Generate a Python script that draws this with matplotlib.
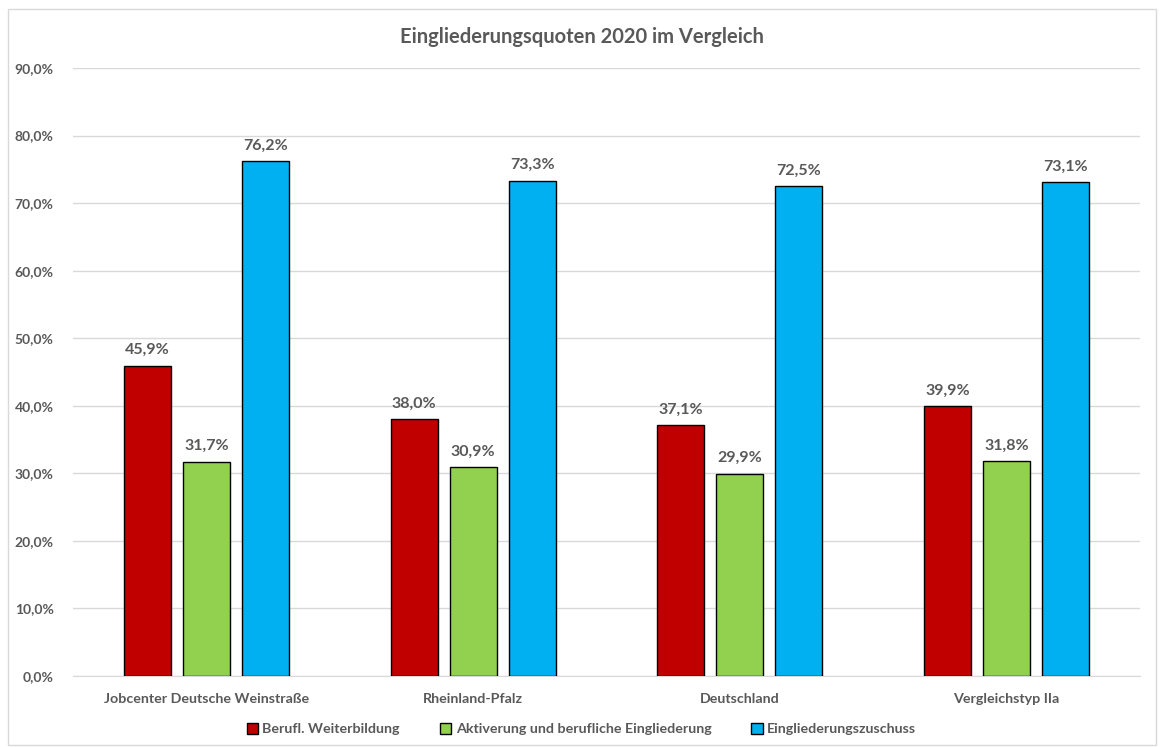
import matplotlib.pyplot as plt
import numpy as np
from matplotlib.patches import Rectangle

categories = ['Jobcenter Deutsche Weinstraße', 'Rheinland-Pfalz',
              'Deutschland', 'Vergleichstyp IIa']
series_names = ['Berufl. Weiterbildung',
                'Aktiverung und berufliche Eingliederung',
                'Eingliederungszuschuss']
weiterbildung = [45.9, 38.0, 37.1, 39.9]
aktivierung = [31.7, 30.9, 29.9, 31.8]
zuschuss = [76.2, 73.3, 72.5, 73.1]
colors = ['#c00000', '#92d050', '#00b0f0']

TXT = '#595959'
plt.rcParams['font.family'] = ['Lato', 'DejaVu Sans']

fig = plt.figure(figsize=(11.63, 7.47), dpi=100)
fig.patches.append(Rectangle((8 / 1163, 2 / 747), 1148 / 1163, 736 / 747,
                             transform=fig.transFigure, fill=False,
                             ec='#d9d9d9', lw=1))
ax = fig.add_axes([73 / 1163, 1 - 676 / 747, 1067 / 1163, 608 / 747])

x = np.arange(len(categories))
w = 0.176
off = 0.221
for i, (vals, col) in enumerate(zip([weiterbildung, aktivierung, zuschuss],
                                    colors)):
    pos = x + (i - 1) * off
    ax.bar(pos, vals, width=w, color=col, edgecolor='black', lw=1,
           label=series_names[i], zorder=3)
    for px, v in zip(pos, vals):
        ax.text(px, v + 1.3, f'{v:.1f}%'.replace('.', ','), ha='center',
                va='bottom', fontsize=11.5, fontweight='bold', color=TXT)

ax.set_xlim(-0.5, 3.5)
ax.set_ylim(0, 90)
ax.set_yticks(np.arange(0, 91, 10))
ax.set_yticklabels([f'{t:.1f}%'.replace('.', ',') for t in range(0, 91, 10)],
                   fontsize=10, fontweight='bold', color=TXT)
ax.set_xticks(x)
ax.set_xticklabels(categories, fontsize=10.3, fontweight='bold', color=TXT)
ax.tick_params(length=0)
ax.tick_params(axis='x', pad=12)
ax.tick_params(axis='y', pad=14)
ax.grid(axis='y', color='#d9d9d9', lw=1, zorder=0)
for s in ('top', 'right', 'left'):
    ax.spines[s].set_visible(False)
ax.spines['bottom'].set_color('#d9d9d9')

fig.text(0.5, 1 - 37 / 747, 'Eingliederungsquoten 2020 im Vergleich',
         ha='center', va='center', fontsize=14.5, fontweight='bold',
         color=TXT)

leg = fig.legend(loc='center', bbox_to_anchor=(0.5, 1 - 729 / 747), ncol=3,
                 frameon=False, handlelength=0.8, handleheight=0.8,
                 handletextpad=0.3, columnspacing=2.8,
                 prop={'size': 10.3, 'weight': 'bold'})
for t in leg.get_texts():
    t.set_color(TXT)

fig.savefig('out.png', dpi=100)
